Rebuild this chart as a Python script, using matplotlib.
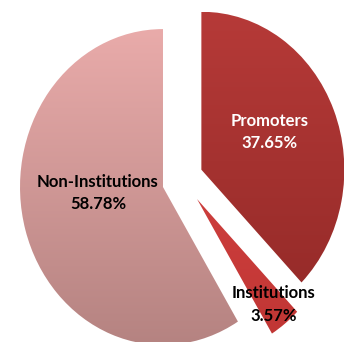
import numpy as np
import matplotlib.pyplot as plt
from matplotlib.colors import LinearSegmentedColormap

labels = ['Promoters', 'Institutions', 'Non-Institutions']
shares = [37.65, 3.57, 58.78]
top_colors = ['#b63a38', '#da4746', '#e9abaa']
bottom_colors = ['#922927', '#bf3533', '#b58381']
text_colors = ['white', 'black', 'black']

fig = plt.figure(figsize=(3.51, 3.42), dpi=100)
ax = fig.add_axes([0, 0, 1, 1])

wedges, _ = ax.pie(shares, startangle=90, counterclock=False,
                   explode=[0.29, 0.25, 0], colors=top_colors)

# excel pushed the small slice out more sideways than along its middle
wedges[1].set_center((0.238, -0.076))

# vertical gradient fill clipped to each slice
for w, c0, c1 in zip(wedges, top_colors, bottom_colors):
    cmap = LinearSegmentedColormap.from_list('g', [c1, c0])
    cx, cy = w.center
    grad = np.linspace(0, 1, 256).reshape(-1, 1)
    im = ax.imshow(grad, cmap=cmap, origin='lower', aspect='auto',
                   extent=[cx - 1, cx + 1, cy - 1, cy + 1], zorder=1)
    im.set_clip_path(w)
    w.set_facecolor('none')
    w.set_edgecolor('none')
    w.set_zorder(2)

label_pos = [(0.748, 0.348), (0.776, -0.745), (-0.455, -0.038)]
for lab, val, (x, y), tc in zip(labels, shares, label_pos, text_colors):
    ax.text(x, y, '%s\n%.2f%%' % (lab, val), ha='center', va='center',
            color=tc, fontsize=12, family='Lato', fontweight='bold',
            linespacing=1.5, zorder=3)

# the original pie is slightly squashed sideways
ax.set_xlim(-1.140, 1.315)
ax.set_ylim(-0.981, 1.184)
ax.set_aspect('auto')
ax.axis('off')

fig.savefig('out.png', dpi=100)
